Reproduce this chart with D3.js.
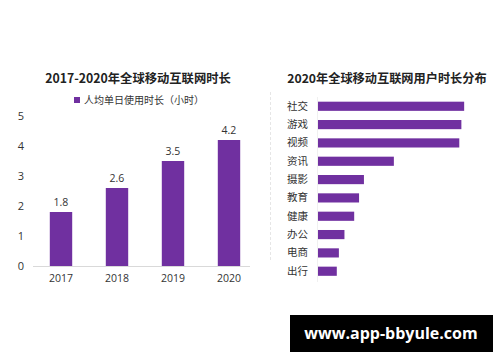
<!DOCTYPE html>
<html>
<head>
<meta charset="utf-8">
<script src="https://cdn.jsdelivr.net/npm/d3@7"></script>
<style>
  body { margin:0; background:#fff; }
  text { font-family: "Open Sans", "Noto Sans CJK SC", sans-serif; }
</style>
</head>
<body>
<svg width="500" height="362"></svg>
<script>
// left chart data
const years = ["2017", "2018", "2019", "2020"];
const hours = [1.8, 2.6, 3.5, 4.2];
const yTicks = [0, 1, 2, 3, 4, 5];
// right chart data (share, %)
const cats = ["社交", "游戏", "视频", "资讯", "摄影", "教育", "健康", "办公", "电商", "出行"];
const shares = [21.0, 20.6, 20.3, 10.9, 6.6, 5.9, 5.2, 3.8, 3.0, 2.7];

const purple = "#7030A0";
const cjk = '"Noto Sans CJK SC", sans-serif';
const svg = d3.select('svg');

//// left: bar chart ////
const xScale = d3.scaleBand()
    .domain(years)
    .range([33, 257])
    .paddingInner(0.6)
    .paddingOuter(0.3);
const yScale = d3.scaleLinear()
    .domain([0, 5])
    .range([266, 116]);

svg.append("text")
    .attr("x", 138).attr("y", 83)
    .attr("text-anchor", "middle")
    .style("font-family", cjk)
    .style("font-weight", "bold")
    .style("font-size", "12.3px")
    .attr("fill", "#222")
    .text("2017-2020年全球移动互联网时长");

// legend
svg.append("rect")
    .attr("x", 74).attr("y", 97).attr("width", 6).attr("height", 6)
    .attr("fill", purple);
svg.append("text")
    .attr("x", 84).attr("y", 104)
    .style("font-family", cjk)
    .style("font-size", "10px")
    .attr("fill", "#333")
    .text("人均单日使用时长（小时）");

// y axis labels
const yAxis = d3.axisLeft(yScale).tickValues(yTicks).tickFormat(d3.format("d")).tickSize(0).tickPadding(0);
svg.append("g")
    .attr("transform", "translate(24,0)")
    .call(yAxis)
    .call(g => g.select(".domain").remove())
    .selectAll("text")
        .style("font-size", "11px")
        .attr("fill", "#333");

// baseline
const xAxis = d3.axisBottom(xScale).tickSize(0).tickPadding(9);
svg.append("g")
    .attr("transform", "translate(0,266)")
    .call(xAxis)
    .call(g => g.select(".domain").attr("stroke", "#d9d9d9").attr("d", "M33,0.5H250"))
    .selectAll("text")
        .style("font-size", "10.5px")
        .attr("fill", "#333");

svg.append("g").selectAll("rect").data(years)
    .enter().append("rect")
    .attr("x", d => xScale(d))
    .attr("y", (d, i) => yScale(hours[i]))
    .attr("width", xScale.bandwidth())
    .attr("height", (d, i) => yScale(0) - yScale(hours[i]))
    .attr("fill", purple);

svg.append("g").selectAll("text").data(years)
    .enter().append("text")
    .attr("x", d => xScale(d) + xScale.bandwidth() / 2)
    .attr("y", (d, i) => yScale(hours[i]) - 6)
    .attr("text-anchor", "middle")
    .style("font-size", "10.5px")
    .attr("fill", "#333")
    .text((d, i) => hours[i].toFixed(1));

//// right: horizontal bars ////
const yBand = d3.scaleBand()
    .domain(cats)
    .range([97.1, 280.4])
    .paddingInner(0.5)
    .paddingOuter(0.25);
const xLin = d3.scaleLinear()
    .domain([0, 25])
    .range([318, 492]);

svg.append("text")
    .attr("x", 387).attr("y", 83)
    .attr("text-anchor", "middle")
    .style("font-family", cjk)
    .style("font-weight", "bold")
    .style("font-size", "12.2px")
    .attr("fill", "#222")
    .text("2020年全球移动互联网用户时长分布");

// faint dashed guide and axis line
svg.append("line")
    .attr("x1", 270.5).attr("x2", 270.5).attr("y1", 92).attr("y2", 262)
    .attr("stroke", "#e6e6e6").attr("stroke-dasharray", "3,2");
svg.append("line")
    .attr("x1", xLin(0) - 0.5).attr("x2", xLin(0) - 0.5).attr("y1", 97).attr("y2", 282)
    .attr("stroke", "#f0f0f0");

svg.append("g")
    .attr("transform", `translate(${xLin(0) - 10},0)`)
    .call(d3.axisLeft(yBand).tickSize(0).tickPadding(0))
    .call(g => g.select(".domain").remove())
    .selectAll("text")
        .style("font-family", cjk)
        .style("font-size", "10.5px")
        .attr("fill", "#333");

svg.append("g").selectAll("rect").data(cats)
    .enter().append("rect")
    .attr("x", xLin(0))
    .attr("y", d => yBand(d))
    .attr("width", (d, i) => xLin(shares[i]) - xLin(0))
    .attr("height", yBand.bandwidth())
    .attr("fill", purple);

//// watermark ////
svg.append("rect")
    .attr("x", 290).attr("y", 315).attr("width", 203).attr("height", 37)
    .attr("fill", "#000");
svg.append("text")
    .attr("x", 391).attr("y", 339)
    .attr("text-anchor", "middle")
    .style("font-family", '"Open Sans", sans-serif')
    .style("font-weight", "bold")
    .style("font-size", "16px")
    .attr("fill", "#fff")
    .text("www.app-bbyule.com");
</script>
</body>
</html>
